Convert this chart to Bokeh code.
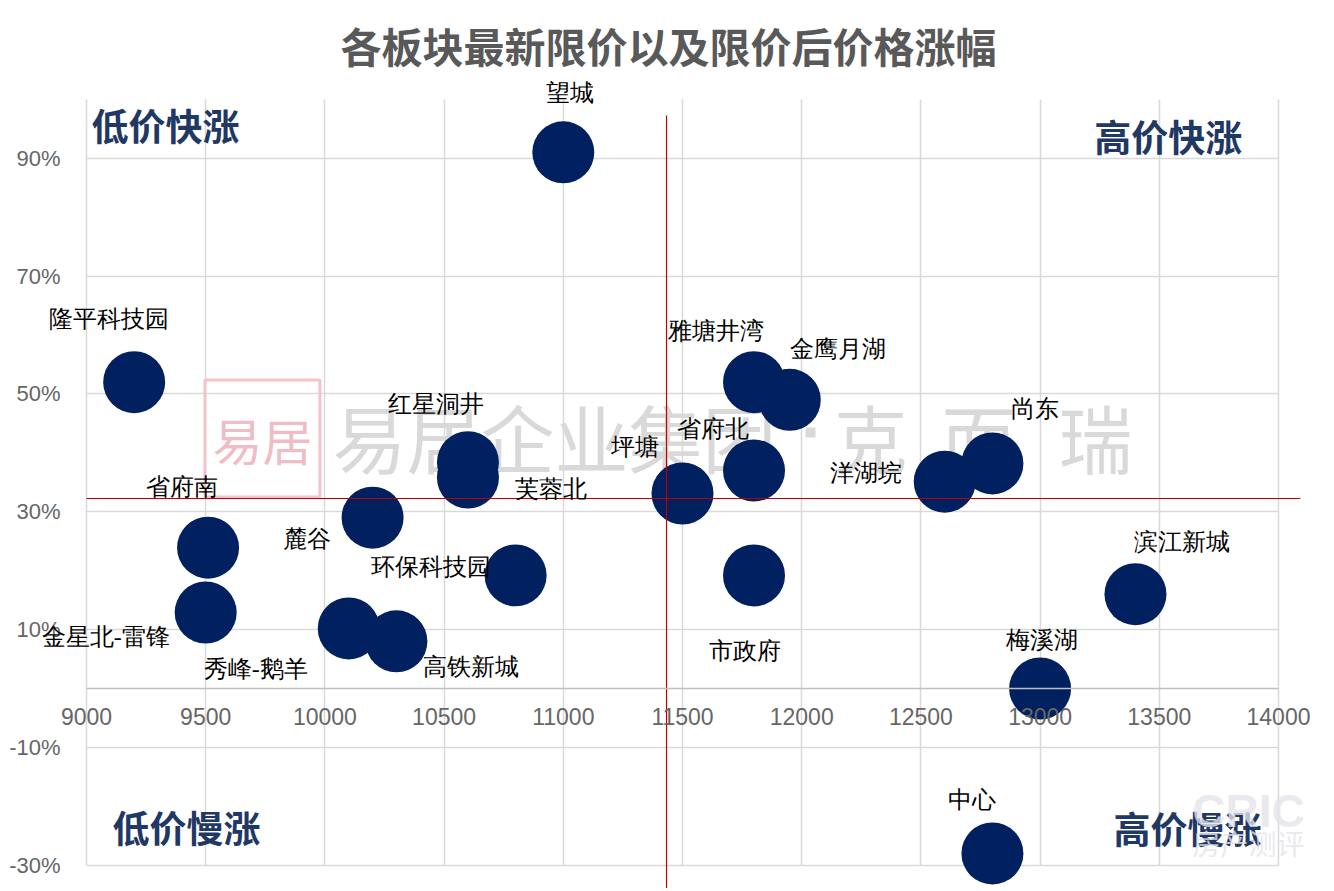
from bokeh.plotting import figure
from bokeh.models import (ColumnDataSource, LabelSet, FixedTicker, NumeralTickFormatter,
                          Range1d, Grid, BasicTickFormatter)
from bokeh.core.properties import value
from bokeh.embed import file_html
from bokeh.resources import INLINE

# ---------------- data ----------------
districts = ["望城", "隆平科技园", "雅塘井湾", "金鹰月湖", "红星洞井", "芙蓉北", "省府北", "坪塘",
             "洋湖垸", "尚东", "省府南", "金星北-雷锋", "麓谷", "环保科技园", "市政府", "秀峰-鹅羊",
             "高铁新城", "滨江新城", "梅溪湖", "中心"]
price_limit = [11000, 9200, 11800, 11950, 10600, 10600, 11800, 11500, 12600, 12800,
               9510, 9500, 10200, 10800, 11800, 10100, 10300, 13400, 13000, 12800]
price_rise = [0.91, 0.52, 0.52, 0.49, 0.384, 0.358, 0.37, 0.331, 0.351, 0.382,
              0.239, 0.129, 0.29, 0.192, 0.192, 0.102, 0.08, 0.16, 0.0, -0.28]

x_ticks = [9000, 9500, 10000, 10500, 11000, 11500, 12000, 12500, 13000, 13500, 14000]
y_ticks = [-0.3, -0.1, 0.1, 0.3, 0.5, 0.7, 0.9]
y_top = 1.0

chart_title = "各板块最新限价以及限价后价格涨幅"
quad_text = ["低价快涨", "高价快涨", "低价慢涨", "高价慢涨"]

# reference (divider) lines
ref_price = 11433
ref_rise = 0.3225

# ---------------- layout / style (positions) ----------------
label_dx = [7, -25, -38, 48, -32, 83, -41, -48, -79, 43, -26, -100, -66, -85, -9, -93, 75, 47, 2, -20]
label_dy = [59, 63, 51, 51, 58, -11, 42, 46, 9, 54, 61, -25, -21, 8, -76, -41, -26, 52, 49, 53]
quad_x = [9331, 13538, 9419, 13618]
quad_y = [0.9556, 0.9386, -0.2359, -0.2376]
title_pos = (11441, 1.0914)
ref_v_extent = (0.9726, -0.40)
ref_h_extent = (9000, 14092)

wm_main = ("易居企业集团", 10032, 0.4294)
wm_dot = (12037, 0.4345)
wm_chars = ["克", "而", "瑞"]
wm_chars_x = [12289, 12742, 13232]
seal = (9738, 0.4243)
cric = (13874, -0.2071, -0.2614)

CJK_NAME = "Noto Sans CJK SC"
NUM_NAME = "Liberation Sans"
CJK = value(CJK_NAME)
NUM = value(NUM_NAME)

src = ColumnDataSource(dict(name=districts, x=price_limit, y=price_rise,
                            dx=label_dx, dy=label_dy))

p = figure(width=1326, height=888,
           x_range=Range1d(8639.3, 14201.3), y_range=Range1d(-0.33946, 1.16775),
           output_backend="svg", toolbar_location=None)
p.min_border = 0
p.min_border_left = 0
p.min_border_right = 0
p.min_border_top = 0
p.min_border_bottom = 0
p.outline_line_color = None
p.background_fill_color = "white"
p.border_fill_color = "white"

# grid
p.xgrid.ticker = FixedTicker(ticks=x_ticks)
p.ygrid.ticker = FixedTicker(ticks=y_ticks)
for g in (p.xgrid, p.ygrid):
    g.grid_line_color = "#D9D9D9"
    g.grid_line_width = 1.5
if "cross_bounds" in Grid.properties():
    p.xgrid.cross_bounds = (y_ticks[0], y_top)
    p.ygrid.cross_bounds = (x_ticks[0], x_ticks[-1])
else:
    p.xgrid.visible = False
    p.ygrid.visible = False
    p.segment(x0=x_ticks, x1=x_ticks, y0=[y_ticks[0]] * len(x_ticks), y1=[y_top] * len(x_ticks),
              line_color="#D9D9D9", line_width=1.5)
    p.segment(x0=[x_ticks[0]] * len(y_ticks), x1=[x_ticks[-1]] * len(y_ticks), y0=y_ticks, y1=y_ticks,
              line_color="#D9D9D9", line_width=1.5)

# x axis at y = 0
xa = p.xaxis[0]
xa.fixed_location = 0
xa.ticker = FixedTicker(ticks=x_ticks)
xa.formatter = BasicTickFormatter(use_scientific=False)
xa.bounds = (x_ticks[0], x_ticks[-1])
xa.axis_line_color = "#BFBFBF"
xa.axis_line_width = 1.5
xa.major_tick_line_color = None
xa.minor_tick_line_color = None
xa.major_label_standoff = 13
xa.major_label_text_font = NUM_NAME
xa.major_label_text_font_size = "23px"
xa.major_label_text_color = "#666666"

# y axis at x = 9000
ya = p.yaxis[0]
ya.fixed_location = x_ticks[0]
ya.ticker = FixedTicker(ticks=y_ticks)
ya.formatter = NumeralTickFormatter(format="0%")
ya.bounds = (y_ticks[0], y_ticks[-1])
ya.axis_line_color = None
ya.major_tick_line_color = None
ya.minor_tick_line_color = None
ya.major_label_standoff = 20
ya.major_label_text_font = NUM_NAME
ya.major_label_text_font_size = "22px"
ya.major_label_text_color = "#666666"

# title
p.text(x=[title_pos[0]], y=[title_pos[1]], text=[chart_title], text_font=CJK,
       text_font_style="bold", text_font_size="41px", text_color="#595959",
       text_align="center", text_baseline="middle")

# watermark (易居企业集团·克而瑞) and seal
p.text(x=[wm_main[1]], y=[wm_main[2]], text=[wm_main[0]], text_font=CJK, text_font_size="74px",
       text_color="#D9D9D9", text_align="left", text_baseline="middle")
p.scatter(x=[wm_dot[0]], y=[wm_dot[1]], marker="square", size=10, fill_color="#D9D9D9", line_color=None)
p.text(x=wm_chars_x, y=[wm_main[2]] * len(wm_chars), text=wm_chars, text_font=CJK,
       text_font_size="74px", text_color="#D9D9D9", text_align="center", text_baseline="middle")
p.rect(x=[seal[0]], y=[seal[1]], width=115, height=117, width_units="screen", height_units="screen",
       fill_color=None, line_color="#F2C4CC", line_width=3)
p.text(x=[seal[0]], y=[seal[1]], text=["易居"], text_font=CJK, text_font_size="50px",
       text_color="#F0BCC5", text_align="center", text_baseline="middle")

# quadrant labels
p.text(x=quad_x, y=quad_y, text=quad_text, text_font=CJK, text_font_style="bold",
       text_font_size="37px", text_color="#1F3864", text_align="center", text_baseline="middle")

# bubbles
p.scatter(x="x", y="y", source=src, size=62, fill_color="#002060", line_color=None)

# divider lines
p.segment(x0=[ref_price], x1=[ref_price], y0=[ref_v_extent[0]], y1=[ref_v_extent[1]],
          line_color="#C00000", line_width=1.2)
p.segment(x0=[ref_h_extent[0]], x1=[ref_h_extent[1]], y0=[ref_rise], y1=[ref_rise],
          line_color="#C00000", line_width=1.2)

# CRIC watermark
p.text(x=[cric[0]], y=[cric[1]], text=["CRIC"], text_font=NUM, text_font_style="bold",
       text_font_size="46px", text_color="#E4E4EA", text_alpha=0.8,
       text_align="center", text_baseline="middle")
p.text(x=[cric[0]], y=[cric[2]], text=["房产测评"], text_font=CJK, text_font_size="28px",
       text_color="#E4E4EA", text_alpha=0.8, text_align="center", text_baseline="middle")

# point labels
labels = LabelSet(x="x", y="y", text="name", x_offset="dx", y_offset="dy", source=src,
                  text_font=CJK_NAME, text_font_size="24px", text_color="black",
                  text_align="center", text_baseline="middle")
p.add_layout(labels)

open("out.html", "w").write(file_html(p, INLINE))
